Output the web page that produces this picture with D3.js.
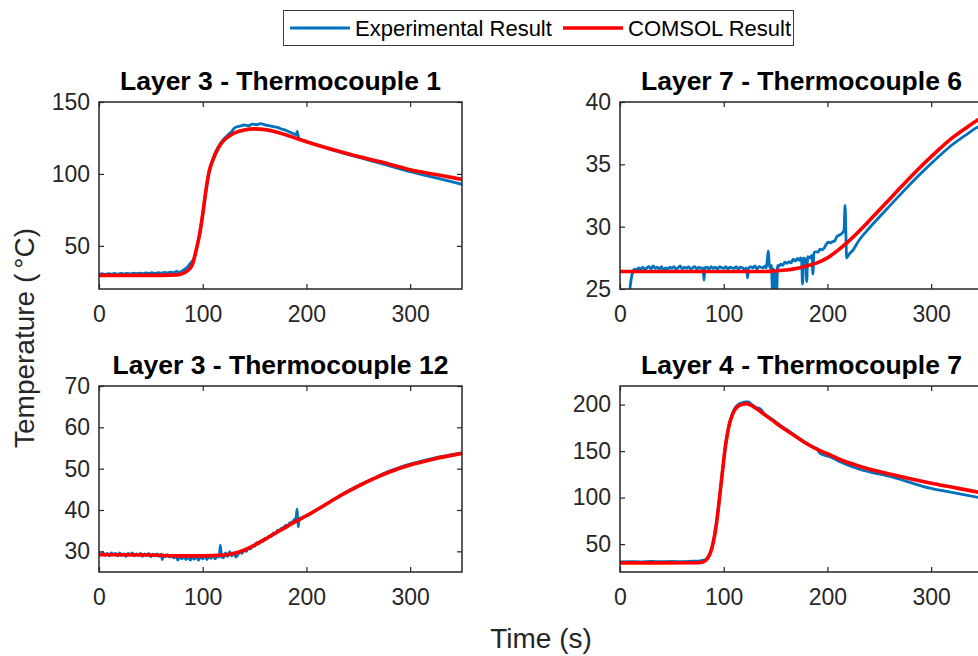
<!DOCTYPE html>
<html>
<head>
<meta charset="utf-8">
<script src="https://cdn.jsdelivr.net/npm/d3@7"></script>
<style>
    body { margin: 0; background: #fff; }
    svg { display: block; }
</style>
</head>
<body>
<svg id="chart" width="978" height="656"></svg>
<script>
// time axis shared by all four panels
const TIME_DOMAIN = [0, 350]
const TIME_TICKS = [0, 100, 200, 300]

const SERIES_NAMES = ["Experimental Result", "COMSOL Result"]

// Layer 3 - Thermocouple 1
const tc1Range = [20, 150]
const tc1Ticks = [50, 100, 150]
const tc1Experimental = [
    [0, 30.2], [3, 30.6], [6, 30.1], [9, 30.7], [12, 30.3], [15, 30.8], [18, 30.2], [21, 30.9],
    [24, 30.4], [27, 30.9], [30, 30.5], [33, 31.0], [36, 30.6], [39, 31.1], [42, 30.7], [45, 31.2],
    [48, 30.8], [51, 31.3], [54, 30.9], [57, 31.4], [60, 31.0], [63, 31.6], [66, 31.2], [69, 31.8],
    [72, 31.4], [75, 32.2], [78, 31.8], [82, 33.5], [85, 35.2], [88, 37.8], [90, 39.5], [92, 42],
    [94, 48], [97, 58], [100, 72], [103, 88], [106, 101], [110, 111], [115, 119], [120, 124],
    [125, 127.5], [128, 129.5], [130, 131.5], [133, 132.8], [136, 133.2], [140, 134], [144, 133.5],
    [148, 134.6], [152, 134.2], [156, 135], [160, 134.1], [164, 133.6], [168, 132.9], [172, 132.4],
    [176, 131.2], [180, 130.4], [184, 129.1], [188, 127.8], [190, 127.2], [191, 129.5], [192, 126.5],
    [193, 124.2], [196, 123.6], [200, 122.6], [210, 120.2], [220, 117.8], [240, 113.6], [260, 109.6],
    [280, 105.6], [300, 101.6], [325, 97.2], [350, 92.8]
]
const tc1Comsol = [
    [0, 29.5], [60, 29.5], [75, 29.8], [80, 30.5], [85, 32.5], [90, 37], [94, 48], [97, 58],
    [100, 72], [103, 88], [106, 101], [110, 110], [115, 118], [120, 123], [125, 126], [130, 128.3],
    [140, 130.6], [150, 131.3], [160, 130.8], [170, 129.3], [180, 127.2], [190, 124.8], [200, 122.4],
    [220, 118], [240, 114], [260, 110.3], [280, 106.8], [300, 102.9], [325, 99.6], [350, 96.2]
]

// Layer 7 - Thermocouple 6
const tc6Range = [25, 40]
const tc6Ticks = [25, 30, 35, 40]
const tc6Experimental = [
    [8, 24.2], [9.5, 25.0], [11, 25.9], [12.5, 26.4], [14, 26.6], [16, 26.5], [18, 26.7], [20, 26.6],
    [22, 26.75], [24, 26.55], [26, 26.7], [28, 26.8], [30, 26.6], [32, 26.85], [34, 26.65], [36, 26.75],
    [38, 26.6], [40, 26.8], [42, 26.5], [44, 26.7], [46, 26.6], [48, 26.75], [50, 26.65], [52, 26.8],
    [54, 26.6], [56, 26.7], [58, 26.85], [60, 26.6], [62, 26.75], [64, 26.65], [66, 26.8], [68, 26.6],
    [70, 26.7], [72, 26.8], [74, 26.6], [76, 26.75], [78, 26.65], [80, 26.7], [81, 25.7], [82, 26.7],
    [84, 26.75], [86, 26.6], [88, 26.8], [90, 26.65], [92, 26.75], [94, 26.6], [96, 26.8], [98, 26.7],
    [100, 26.65], [102, 26.8], [104, 26.6], [106, 26.75], [108, 26.7], [110, 26.65], [112, 26.8],
    [114, 26.6], [116, 26.75], [118, 26.7], [120, 26.6], [122, 26.7], [123, 25.9], [124, 26.65],
    [126, 26.8], [128, 26.7], [130, 26.85], [132, 26.6], [134, 26.8], [136, 26.75], [138, 26.7],
    [140, 26.85], [141, 26.7], [142, 27.3], [143, 28.05], [144, 26.9], [145, 26.7], [146, 26.9],
    [147, 24.8], [148, 26.6], [149, 24.5], [150, 26.3], [151, 24.6], [152, 26.9], [153, 26.8],
    [155, 27.0], [157, 26.9], [159, 27.15], [161, 27.05], [163, 27.2], [165, 27.1], [167, 27.4],
    [169, 27.25], [171, 27.45], [173, 27.3], [174, 27.5], [175, 27.4], [176, 25.4], [177, 27.5],
    [179, 27.35], [180, 25.6], [181, 27.6], [183, 27.5], [185, 27.7], [186, 26.2], [187, 27.9],
    [189, 28.0], [191, 27.95], [193, 28.2], [195, 28.15], [197, 28.3], [199, 28.6], [201, 28.75],
    [203, 28.7], [205, 28.8], [207, 28.85], [209, 29.2], [211, 29.3], [213, 29.4], [215, 29.55],
    [216, 29.7], [217, 31.7], [218, 28.8], [218.5, 27.5], [219.5, 27.6], [222, 27.9], [224, 28.05],
    [230, 28.85], [240, 29.85], [256, 31.3], [270, 32.55], [288, 34.1], [305, 35.45], [320, 36.55],
    [335, 37.45], [343, 37.9], [350, 38.25]
]
const tc6Comsol = [
    [0, 26.4], [100, 26.4], [140, 26.4], [150, 26.45], [160, 26.52], [170, 26.65], [180, 26.85],
    [190, 27.1], [200, 27.5], [210, 28.1], [220, 28.8], [230, 29.6], [240, 30.45], [256, 31.85],
    [270, 33.1], [288, 34.65], [305, 36.0], [320, 37.1], [335, 38.0], [343, 38.45], [350, 38.8]
]

// Layer 3 - Thermocouple 12
const tc12Range = [25, 70]
const tc12Ticks = [30, 40, 50, 60, 70]
const tc12Experimental = [
    [0, 29.7], [2, 29.1], [4, 29.6], [6, 29.0], [8, 29.5], [10, 28.9], [12, 29.6], [14, 29.2],
    [16, 29.5], [18, 28.9], [20, 29.6], [22, 29.0], [24, 29.4], [26, 28.8], [28, 29.5], [30, 29.1],
    [32, 29.6], [34, 28.9], [36, 29.4], [38, 29.0], [40, 29.5], [42, 28.8], [44, 29.4], [46, 29.0],
    [48, 29.5], [50, 28.7], [52, 29.3], [54, 28.9], [56, 29.4], [58, 28.8], [60, 29.3], [61, 28.0],
    [62, 29.1], [64, 28.7], [66, 29.2], [68, 28.6], [70, 29.1], [72, 28.4], [74, 29.0], [76, 27.9],
    [78, 28.9], [80, 28.2], [82, 28.8], [84, 28.0], [86, 28.9], [88, 27.9], [90, 28.7], [92, 28.1],
    [94, 28.9], [96, 27.9], [98, 28.8], [100, 28.2], [102, 29.0], [104, 28.0], [106, 28.9], [108, 28.3],
    [110, 29.1], [112, 28.2], [114, 29.0], [116, 28.6], [117, 31.5], [118, 28.8], [120, 28.4], [122, 29.6],
    [124, 28.7], [126, 29.9], [128, 28.9], [130, 29.7], [132, 28.6], [134, 29.3], [136, 29.8], [138, 29.5],
    [140, 30.4], [142, 30.0], [144, 30.8], [146, 30.6], [148, 31.4], [150, 31.2], [152, 32.1], [154, 31.9],
    [156, 32.5], [158, 32.4], [160, 33.1], [162, 33.0], [164, 33.7], [166, 33.6], [168, 34.4], [170, 34.3],
    [172, 35.0], [174, 35.1], [176, 35.6], [178, 35.7], [180, 36.3], [182, 36.2], [184, 36.9], [186, 37.0],
    [188, 37.6], [190, 38.1], [191, 40.2], [192, 35.9], [193, 37.8], [200, 38.6], [215, 40.8], [233, 43.6],
    [250, 45.9], [265, 47.7], [280, 49.4], [300, 51.1], [322, 52.5], [350, 53.8]
]
const tc12Comsol = [
    [0, 29.2], [50, 29.1], [80, 28.9], [100, 28.9], [120, 29.1], [130, 29.5], [140, 30.3], [150, 31.5],
    [160, 32.9], [170, 34.4], [180, 35.8], [190, 37.3], [200, 38.6], [215, 40.8], [233, 43.5], [250, 45.8],
    [265, 47.6], [280, 49.2], [300, 50.9], [322, 52.3], [350, 53.7]
]

// Layer 4 - Thermocouple 7
const tc7Range = [20, 220]
const tc7Ticks = [50, 100, 150, 200]
const tc7Experimental = [
    [0, 30.8], [10, 31.2], [20, 30.9], [30, 31.3], [40, 31], [50, 31.4], [60, 31.1], [70, 31.6],
    [76, 31.8], [80, 32.4], [84, 35], [87, 41], [90, 53], [93, 73], [95.5, 96], [97.5, 116],
    [99.5, 136], [101.5, 155], [103.5, 169], [105.5, 180], [108, 189], [110.5, 195.5], [114, 200],
    [118, 202], [121.5, 202.8], [124, 203], [126, 201], [131, 197], [135, 195.5], [139, 190.5],
    [147, 184], [155, 177.5], [163, 171.5], [171, 165], [179, 159], [187, 154], [190, 152.7],
    [191, 150.5], [193, 147.5], [203, 143.6], [211, 139.2], [230, 130.8], [262, 122.3], [300, 109.8],
    [325, 104.6], [350, 99.2]
]
const tc7Comsol = [
    [0, 29.8], [40, 29.8], [75, 30], [80, 30.8], [84, 34], [87, 40], [90, 52], [93, 72],
    [95.5, 95], [97.5, 115], [99.5, 135], [101.5, 154], [103.5, 168], [105.5, 179], [108, 188],
    [110.5, 194], [114, 198.5], [118, 200.5], [121.5, 201], [126, 199.5], [131, 196], [139, 189.5],
    [147, 183], [155, 176.5], [163, 170.5], [171, 164.5], [179, 158.7], [187, 153.6], [195, 149.5],
    [203, 145.7], [211, 141.5], [230, 134], [262, 124.8], [300, 115.5], [325, 110.2], [350, 104.8]
]

const FONT = "'Liberation Sans', Arial, Helvetica, sans-serif"
const AXIS_COLOR = "#262626"
const COLORS = ["#0072BD", "#FF0000"]
const LINE_WIDTHS = [2.8, 3.6]
const PLOT_WIDTH = 363

const panels = [
    {title: "Layer 3 - Thermocouple 1", series: [tc1Experimental, tc1Comsol], yDomain: tc1Range, yTicks: tc1Ticks, left: 99, top: 102, height: 187},
    {title: "Layer 7 - Thermocouple 6", series: [tc6Experimental, tc6Comsol], yDomain: tc6Range, yTicks: tc6Ticks, left: 620, top: 102, height: 187},
    {title: "Layer 3 - Thermocouple 12", series: [tc12Experimental, tc12Comsol], yDomain: tc12Range, yTicks: tc12Ticks, left: 99, top: 386, height: 186},
    {title: "Layer 4 - Thermocouple 7", series: [tc7Experimental, tc7Comsol], yDomain: tc7Range, yTicks: tc7Ticks, left: 620, top: 386, height: 186}
]

function styleAxis(g) {
    g.attr("font-family", FONT)
        .attr("font-size", 23)
        .attr("color", AXIS_COLOR)
    g.select(".domain").remove()
    g.selectAll(".tick line").attr("stroke-width", 1.2)
}

function drawPanel(svg, panel, index) {
    let g = svg.append("g")
            .attr("transform", `translate(${panel.left}, ${panel.top})`),
        x = d3.scaleLinear()
            .domain(TIME_DOMAIN)
            .range([0, PLOT_WIDTH]),
        y = d3.scaleLinear()
            .domain(panel.yDomain)
            .range([panel.height, 0]),
        line = d3.line()
            .curve(d3.curveMonotoneX)
            .x(datum => x(datum[0]))
            .y(datum => y(datum[1]))

    g.append("clipPath")
        .attr("id", `clip-${index}`)
        .append("rect")
        .attr("width", PLOT_WIDTH)
        .attr("height", panel.height)

    // experimental first, COMSOL drawn on top like in the matlab figure
    g.append("g")
        .attr("clip-path", `url(#clip-${index})`)
        .selectAll("path")
        .data(panel.series)
        .join("path")
        .attr("fill", "none")
        .attr("stroke", (datum, i) => COLORS[i])
        .attr("stroke-width", (datum, i) => LINE_WIDTHS[i])
        .attr("stroke-linejoin", "round")
        .attr("d", line)

    g.append("g")
        .attr("transform", `translate(0, ${panel.height})`)
        .call(d3.axisBottom(x).tickValues(TIME_TICKS).tickSizeInner(-5).tickSizeOuter(0).tickPadding(17))
        .call(styleAxis)

    g.append("g")
        .call(d3.axisTop(x).tickValues(TIME_TICKS).tickSizeInner(-5).tickSizeOuter(0).tickFormat(""))
        .call(styleAxis)

    g.append("g")
        .call(d3.axisLeft(y).tickValues(panel.yTicks).tickSizeInner(-5).tickSizeOuter(0).tickPadding(9))
        .call(styleAxis)

    g.append("g")
        .attr("transform", `translate(${PLOT_WIDTH}, 0)`)
        .call(d3.axisRight(y).tickValues(panel.yTicks).tickSizeInner(-5).tickSizeOuter(0).tickFormat(""))
        .call(styleAxis)

    g.append("rect")
        .attr("width", PLOT_WIDTH)
        .attr("height", panel.height)
        .attr("fill", "none")
        .attr("stroke", AXIS_COLOR)
        .attr("stroke-width", 1.5)

    g.append("text")
        .text(panel.title)
        .attr("x", PLOT_WIDTH / 2)
        .attr("y", -12)
        .attr("text-anchor", "middle")
        .attr("font-family", FONT)
        .attr("font-weight", "bold")
        .attr("font-size", 26.5)
        .attr("fill", "#000")
}

let svg = d3.select("#chart")

panels.forEach((panel, index) => drawPanel(svg, panel, index))

// shared axis labels
svg.append("text")
    .text("Time (s)")
    .attr("x", 541)
    .attr("y", 648)
    .attr("text-anchor", "middle")
    .attr("font-family", FONT)
    .attr("font-size", 28)
    .attr("fill", AXIS_COLOR)

let yLabel = svg.append("text")
    .attr("transform", `translate(34, 338) rotate(-90)`)
    .attr("text-anchor", "middle")
    .attr("font-family", FONT)
    .attr("font-size", 28)
    .attr("fill", AXIS_COLOR)
yLabel.append("tspan").text("Temperature (")
yLabel.append("tspan").text("°").attr("dx", 5)
yLabel.append("tspan").text("C)")

// legend
let legend = svg.append("g")
    .attr("font-family", FONT)
    .attr("font-size", 22)

legend.append("rect")
    .attr("x", 283.5)
    .attr("y", 10.5)
    .attr("width", 510)
    .attr("height", 35)
    .attr("fill", "#fff")
    .attr("stroke", "#3c3c3c")
    .attr("stroke-width", 1)

let legendItems = legend.selectAll("g.item")
    .data(SERIES_NAMES)
    .join("g")
    .attr("class", "item")
    .attr("transform", (datum, i) => `translate(${i === 0 ? 290 : 563}, 0)`)

legendItems.append("line")
    .attr("x1", 0)
    .attr("x2", 60)
    .attr("y1", 28)
    .attr("y2", 28)
    .attr("stroke", (datum, i) => COLORS[i])
    .attr("stroke-width", (datum, i) => LINE_WIDTHS[i])

legendItems.append("text")
    .text(datum => datum)
    .attr("x", 65)
    .attr("y", 35.5)
    .attr("fill", "#000")
</script>
</body>
</html>
